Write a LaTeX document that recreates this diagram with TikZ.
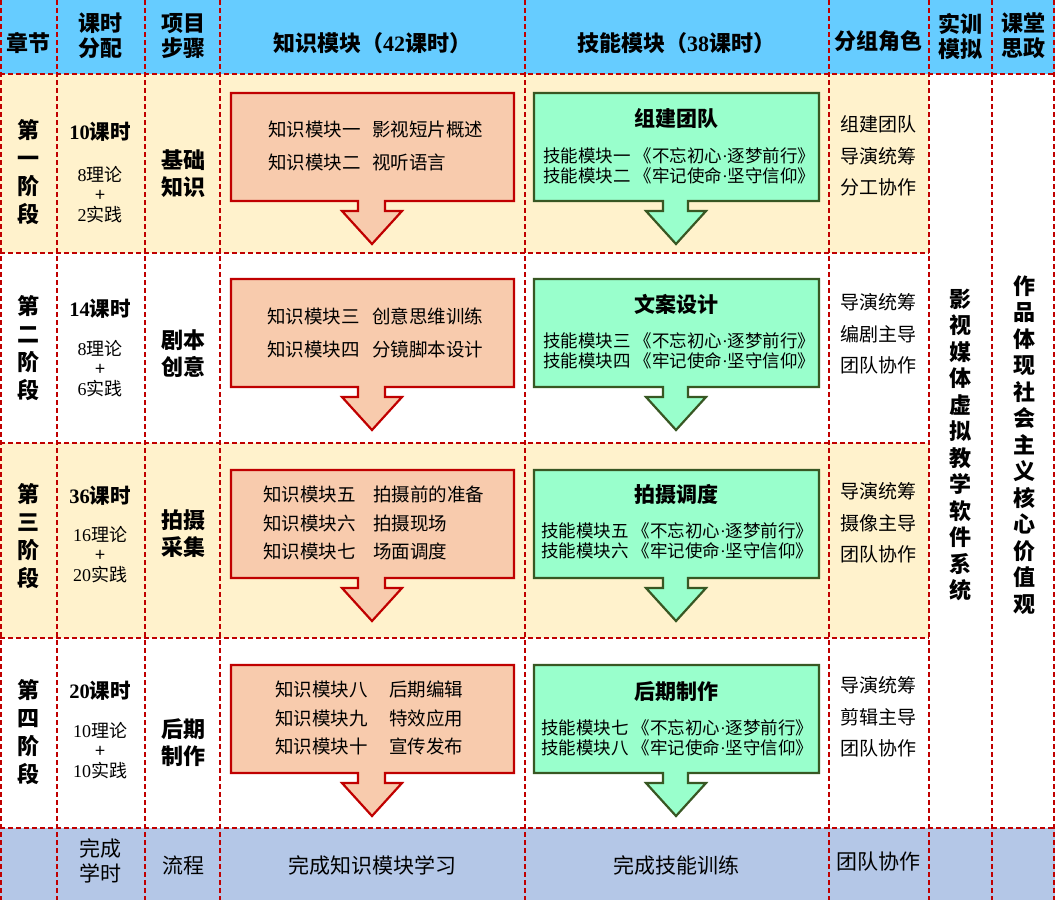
\documentclass[tikz,border=0pt]{standalone}
\usepackage{fontspec}
\setmainfont{Noto Sans CJK SC}
\newfontfamily\tms{Liberation Serif}
\usetikzlibrary{positioning}
\definecolor{headblue}{HTML}{66CCFF}
\definecolor{rowyellow}{HTML}{FFF2CC}
\definecolor{footblue}{HTML}{B4C7E7}
\definecolor{gridred}{HTML}{C00000}
\definecolor{knowfill}{HTML}{F8CBAD}
\definecolor{skillfill}{HTML}{99FFCC}
\definecolor{skilledge}{HTML}{385723}
\newcommand{\mdot}{{\tms ·}}
\tikzset{
    cellline/.style={gridred, line width=1.1pt, dash pattern=on 5pt off 3pt},
    colhead/.style={font=\fontsize{22}{25}\selectfont\bfseries, align=center, inner sep=0pt},
    stage/.style={font=\fontsize{22}{28}\selectfont\bfseries, align=center, inner sep=0pt},
    hours/.style={font=\fontsize{20.5}{24}\selectfont\bfseries, inner sep=0pt},
    hoursplit/.style={font=\fontsize{18}{20}\selectfont, align=center, inner sep=0pt},
    phase/.style={font=\fontsize{22}{27}\selectfont\bfseries, align=center, inner sep=0pt},
    % callout boxes of the two module columns
    know/.style={fill=knowfill, draw=gridred, line width=2.2pt},
    skill/.style={fill=skillfill, draw=skilledge, line width=2.2pt},
    knowtext/.style={font=\fontsize{18.5}{33}\selectfont, align=left, anchor=west, inner sep=0pt},
    knowtight/.style={knowtext, font=\fontsize{18.5}{28.5}\selectfont},
    skilltitle/.style={font=\fontsize{21}{24}\selectfont\bfseries, inner sep=0pt},
    skilltext/.style={font=\fontsize{17.5}{20.5}\selectfont, align=left, anchor=west, inner sep=0pt},
    role/.style={font=\fontsize{19}{31.5}\selectfont, align=center, inner sep=0pt},
    vert/.style={font=\fontsize{22}{26.5}\selectfont\bfseries, align=center, inner sep=0pt},
    foot/.style={font=\fontsize{21}{25}\selectfont, align=center, inner sep=0pt},
}

\begin{document}
\begin{tikzpicture}[x=1pt, y=-1pt]
    \useasboundingbox (0,0) rectangle (1055,900);

    % bands
    \fill[headblue] (0,0) rectangle (1055,74);
    \fill[rowyellow] (0,74) rectangle (929,253);
    \fill[rowyellow] (0,443) rectangle (929,638);
    \fill[footblue] (0,828) rectangle (1055,900);

    % dashed grid
    \foreach \x in {1,57,145,220,525,829,929,992,1054}
        \draw[cellline] (\x,0) -- (\x,900);
    \draw[cellline] (0,74) -- (1055,74);
    \draw[cellline] (0,828) -- (1055,828);
    \foreach \y in {253,443,638}
        \draw[cellline] (0,\y) -- (929,\y);

    % header
    \node[colhead] (hchap) at (28,43) {章节};
    \node[colhead] (hhour) at (100,36) {课时\\分配};
    \node[colhead] (hstep) at (183,36) {项目\\步骤};
    \node[colhead] (hknow) at (372,43) {知识模块（{\tms 42}课时）};
    \node[colhead] (hskill) at (676,43) {技能模块（{\tms 38}课时）};
    \node[colhead] (hrole) at (878,41) {分组角色};
    \node[colhead] (hsim) at (960,36) {实训\\模拟};
    \node[colhead] (hpol) at (1023,36) {课堂\\思政};

    % stages
    \node[stage] (st1) at (28,172) {第\\一\\阶\\段};
    \node[stage] (st2) at (28,348) {第\\二\\阶\\段};
    \node[stage] (st3) at (28,536) {第\\三\\阶\\段};
    \node[stage] (st4) at (28,732) {第\\四\\阶\\段};

    \node[hours] (hr1) at (100,132) {{\tms 10}课时};
    \node[hoursplit] (sp1) at (100,195) {{\tms 8}理论\\+\\{\tms 2}实践};
    \node[hours] (hr2) at (100,309) {{\tms 14}课时};
    \node[hoursplit] (sp2) at (100,369) {{\tms 8}理论\\+\\{\tms 6}实践};
    \node[hours] (hr3) at (100,496) {{\tms 36}课时};
    \node[hoursplit] (sp3) at (100,555) {{\tms 16}理论\\+\\{\tms 20}实践};
    \node[hours] (hr4) at (100,691) {{\tms 20}课时};
    \node[hoursplit] (sp4) at (100,751) {{\tms 10}理论\\+\\{\tms 10}实践};

    \node[phase] (ph1) at (183,174) {基础\\知识};
    \node[phase] (ph2) at (183,354) {剧本\\创意};
    \node[phase] (ph3) at (183,534) {拍摄\\采集};
    \node[phase] (ph4) at (183,743) {后期\\制作};

    % module callouts
    \foreach \t in {93,279,470,665}{
        \draw[know] (231,\t) -- (514,\t) -- (514,\t+108) -- (385,\t+108) -- (385,\t+118)
            -- (402,\t+118) -- (372,\t+151) -- (342,\t+118) -- (358,\t+118)
            -- (358,\t+108) -- (231,\t+108) -- cycle;
        \draw[skill] (534,\t) -- (819,\t) -- (819,\t+108) -- (688,\t+108) -- (688,\t+118)
            -- (706,\t+118) -- (676,\t+151) -- (646,\t+118) -- (663,\t+118)
            -- (663,\t+108) -- (534,\t+108) -- cycle;
    }

    \node[knowtext] (ka1) at (268,146) {知识模块一\\知识模块二};
    \node[knowtext] (kb1) at (372,146) {影视短片概述\\视听语言};
    \node[knowtext] (ka2) at (267,333) {知识模块三\\知识模块四};
    \node[knowtext] (kb2) at (372,333) {创意思维训练\\分镜脚本设计};
    \node[knowtight] (ka3) at (263,523) {知识模块五\\知识模块六\\知识模块七};
    \node[knowtight] (kb3) at (373,523) {拍摄前的准备\\拍摄现场\\场面调度};
    \node[knowtight] (ka4) at (275,718) {知识模块八\\知识模块九\\知识模块十};
    \node[knowtight] (kb4) at (389,718) {后期编辑\\特效应用\\宣传发布};

    \node[skilltitle] (sk1) at (676,118) {组建团队};
    \node[skilltext] (sl1) at (543,166) {技能模块一 《不忘初心\mdot 逐梦前行》\\技能模块二 《牢记使命\mdot 坚守信仰》};
    \node[skilltitle] (sk2) at (676,304) {文案设计};
    \node[skilltext] (sl2) at (543,351) {技能模块三 《不忘初心\mdot 逐梦前行》\\技能模块四 《牢记使命\mdot 坚守信仰》};
    \node[skilltitle] (sk3) at (676,494) {拍摄调度};
    \node[skilltext] (sl3) at (541,541) {技能模块五 《不忘初心\mdot 逐梦前行》\\技能模块六 《牢记使命\mdot 坚守信仰》};
    \node[skilltitle] (sk4) at (676,692) {后期制作};
    \node[skilltext] (sl4) at (541,738) {技能模块七 《不忘初心\mdot 逐梦前行》\\技能模块八 《牢记使命\mdot 坚守信仰》};

    % roles
    \node[role] (ro1) at (878,156) {组建团队\\导演统筹\\分工协作};
    \node[role] (ro2) at (878,334) {导演统筹\\编剧主导\\团队协作};
    \node[role] (ro3) at (878,523) {导演统筹\\摄像主导\\团队协作};
    \node[role] (ro4) at (878,717) {导演统筹\\剪辑主导\\团队协作};

    \node[vert] (sim) at (960,445) {影\\视\\媒\\体\\虚\\拟\\教\\学\\软\\件\\系\\统};
    \node[vert] (pol) at (1024,445) {作\\品\\体\\现\\社\\会\\主\\义\\核\\心\\价\\值\\观};

    % footer
    \node[foot] (fhour) at (100,861) {完成\\学时};
    \node[foot] (fstep) at (183,865) {流程};
    \node[foot] (fknow) at (372,865) {完成知识模块学习};
    \node[foot] (fskill) at (676,865) {完成技能训练};
    \node[foot] (frole) at (878,862) {团队协作};
\end{tikzpicture}
\end{document}
